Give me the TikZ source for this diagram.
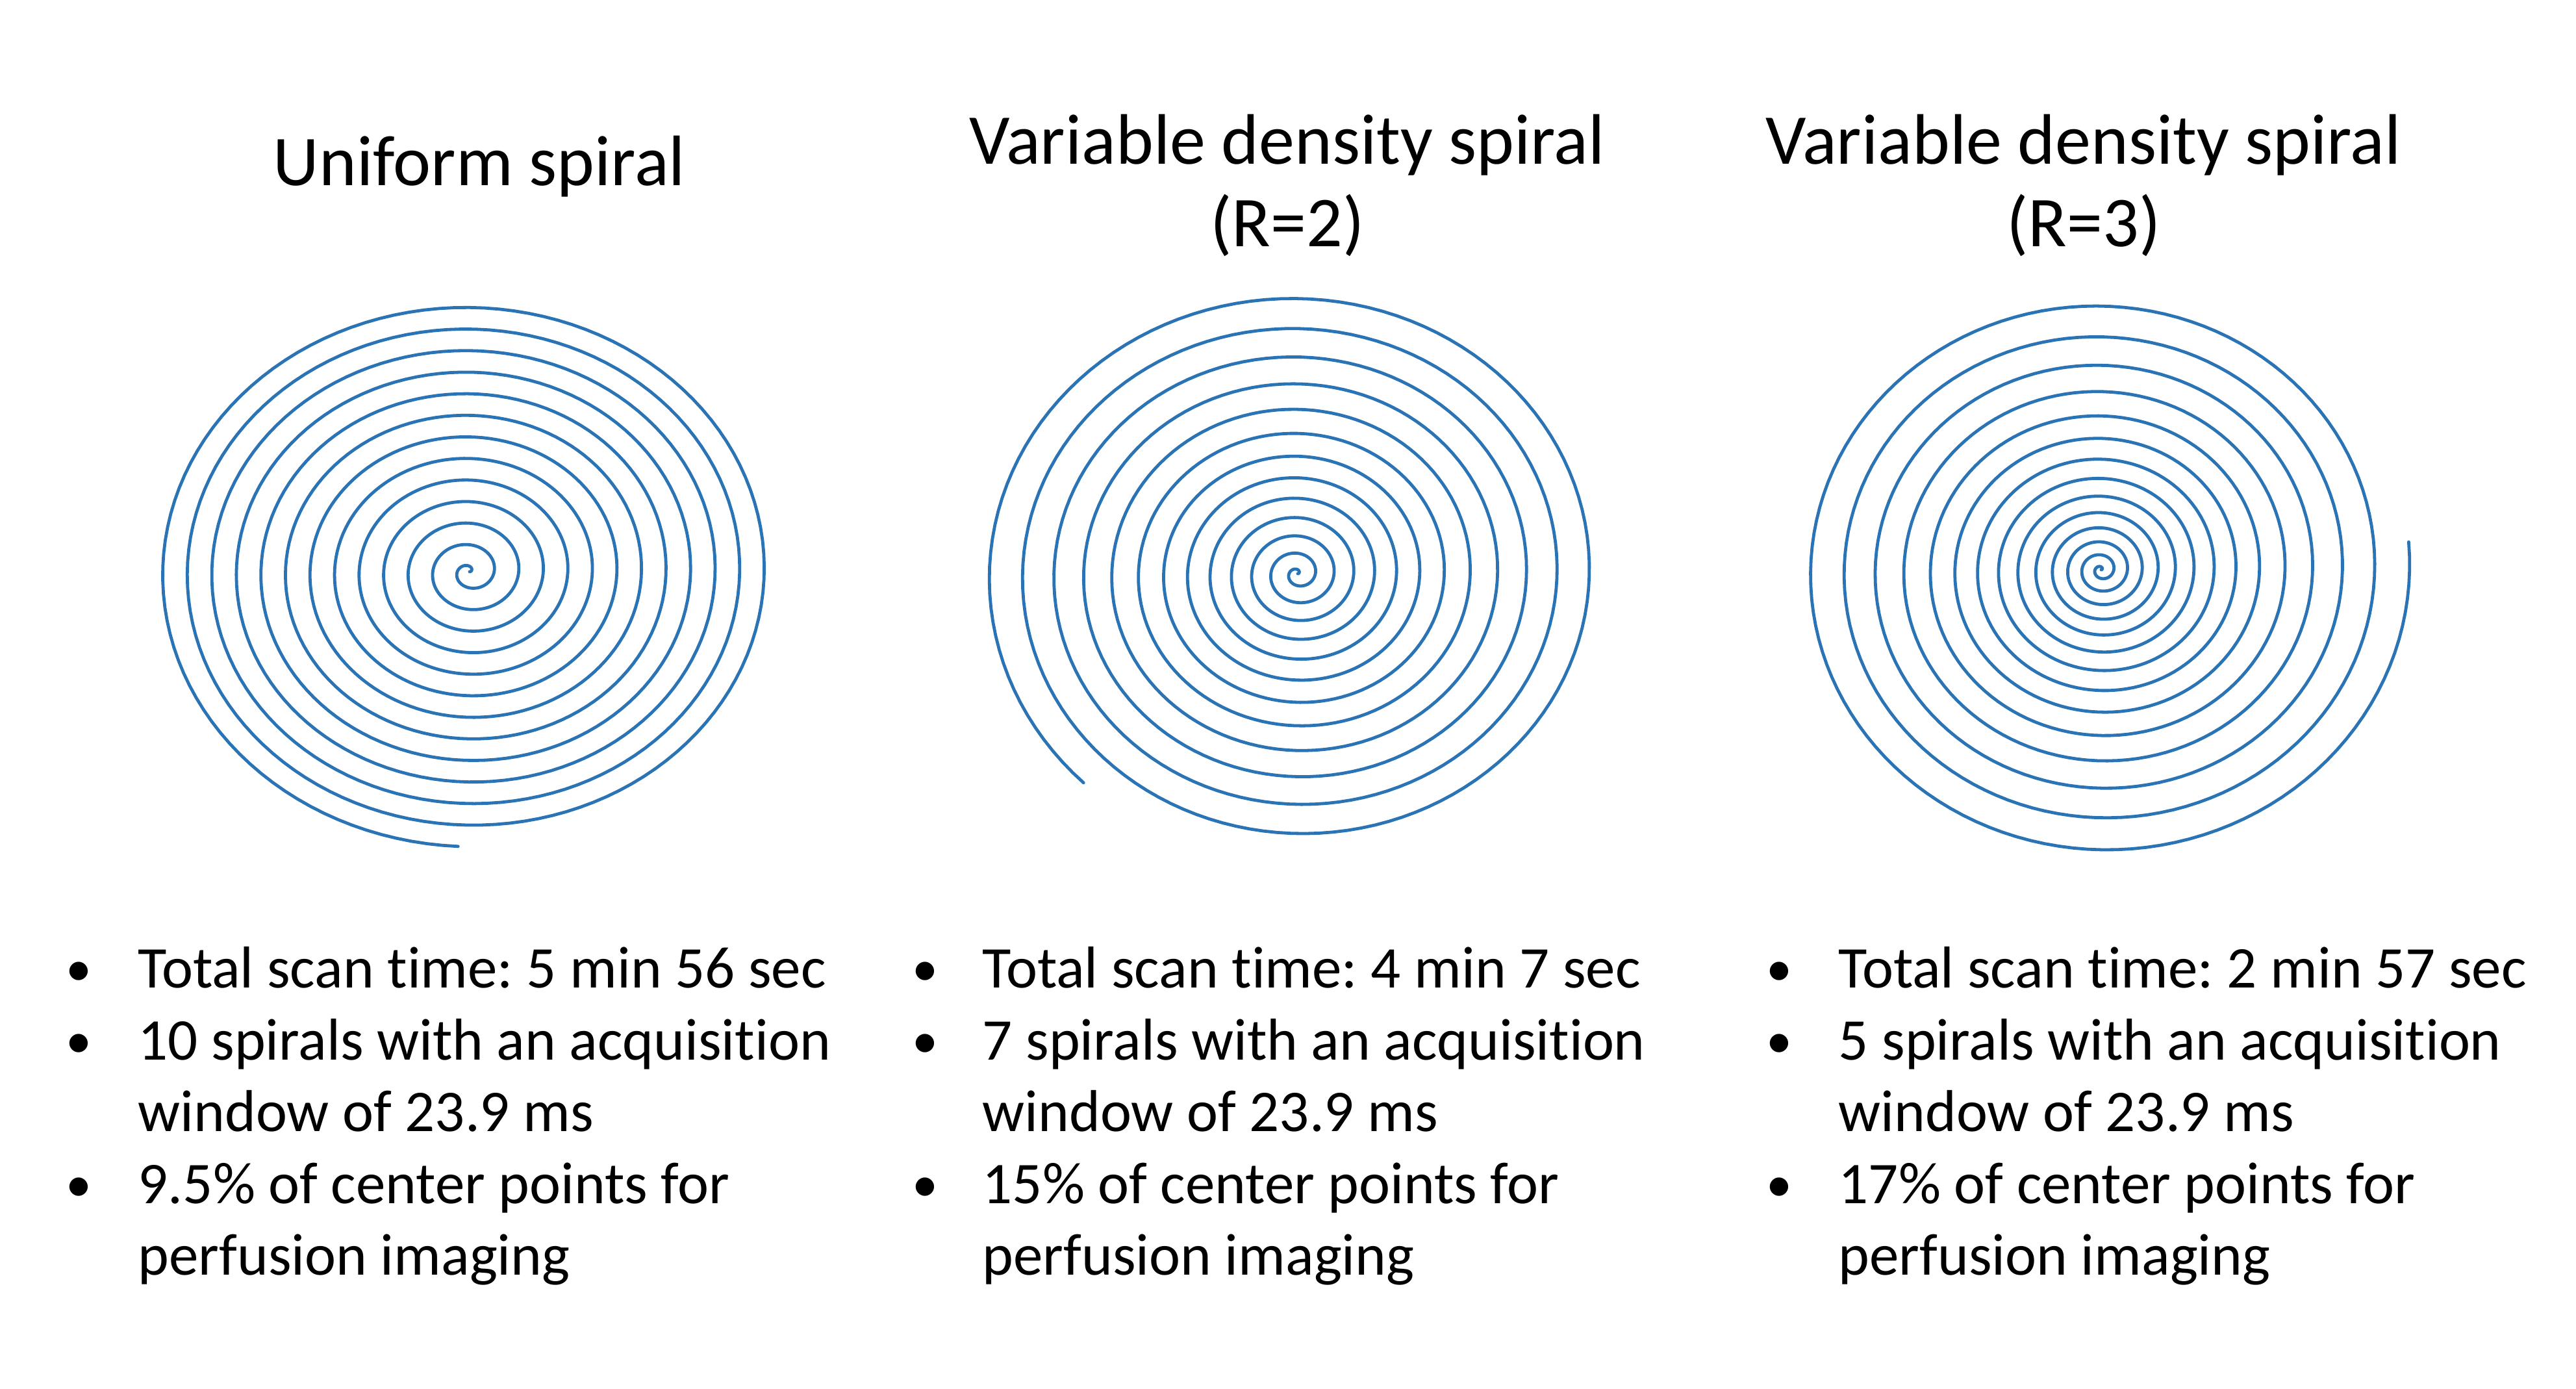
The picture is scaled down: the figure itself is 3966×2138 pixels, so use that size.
\documentclass[tikz,border=0pt]{standalone}
\usepackage{fontspec}
\setmainfont{Carlito}[Ligatures=NoCommon]
\frenchspacing
\definecolor{spiralblue}{RGB}{42,115,181}
\begin{document}
\begin{tikzpicture}[x=0.25pt,y=-0.25pt,
  spiral/.style={draw=spiralblue, line width=1.2pt, line join=round, line cap=round},
  titletext/.style={anchor=base, inner sep=0pt, font=\fontsize{27.5}{33}\selectfont},
  itemtext/.style={anchor=base west, inner sep=0pt, font=\fontsize{22.75}{27.6}\selectfont},
  bullet/.style={anchor=base, inner sep=0pt, font=\fontsize{20}{24}\selectfont}]
\useasboundingbox[fill=white] (0,0) rectangle (3966,2138);

% spirals
\draw[spiral] plot[domain=0:12.752, samples=1600, variable=\t]
  ({723+37.8*\t*cos(360*\t)}, {880-33.2*\t*sin(360*\t)});
\draw[spiral] plot[domain=0:12.636, samples=1600, variable=\t]
  ({1998+482*(exp(0.054855*\t)-1)*cos(360*\t)}, {883-0.917*482*(exp(0.054855*\t)-1)*sin(360*\t)});
\draw[spiral] plot[domain=0:14.02, samples=1800, variable=\t]
  ({3235+238*(exp(0.07836*\t)-1)*cos(360*\t)}, {877-0.935*238*(exp(0.07836*\t)-1)*sin(360*\t)});

% titles
\node[titletext] (t1) at (738,286) {Uniform spiral};
\node[titletext] (t2a) at (1982,253) {Variable density spiral};
\node[titletext] (t2b) at (1982,380) {(R=2)};
\node[titletext] (t3a) at (3208,253) {Variable density spiral};
\node[titletext] (t3b) at (3208,380) {(R=3)};

% column 1
\node[bullet] (b11) at (121,1517) {•};
\node[itemtext] (l11) at (212,1520) {Total scan time: 5 min 56 sec};
\node[bullet] (b12) at (121,1628) {•};
\node[itemtext] (l12) at (212,1631) {10 spirals with an acquisition};
\node[itemtext] (l13) at (212,1741) {window of 23.9 ms};
\node[bullet] (b14) at (121,1849) {•};
\node[itemtext] (l14) at (212,1852) {9.5\% of center points for};
\node[itemtext] (l15) at (212,1962) {perfusion imaging};

% column 2
\node[bullet] (b21) at (1424,1517) {•};
\node[itemtext] (l21) at (1512,1520) {Total scan time: 4 min 7 sec};
\node[bullet] (b22) at (1424,1628) {•};
\node[itemtext] (l22) at (1512,1631) {7 spirals with an acquisition};
\node[itemtext] (l23) at (1512,1741) {window of 23.9 ms};
\node[bullet] (b24) at (1424,1849) {•};
\node[itemtext] (l24) at (1512,1852) {15\% of center points for};
\node[itemtext] (l25) at (1512,1962) {perfusion imaging};

% column 3
\node[bullet] (b31) at (2739,1517) {•};
\node[itemtext] (l31) at (2830,1520) {Total scan time: 2 min 57 sec};
\node[bullet] (b32) at (2739,1628) {•};
\node[itemtext] (l32) at (2830,1631) {5 spirals with an acquisition};
\node[itemtext] (l33) at (2830,1741) {window of 23.9 ms};
\node[bullet] (b34) at (2739,1849) {•};
\node[itemtext] (l34) at (2830,1852) {17\% of center points for};
\node[itemtext] (l35) at (2830,1962) {perfusion imaging};
\end{tikzpicture}
\end{document}
